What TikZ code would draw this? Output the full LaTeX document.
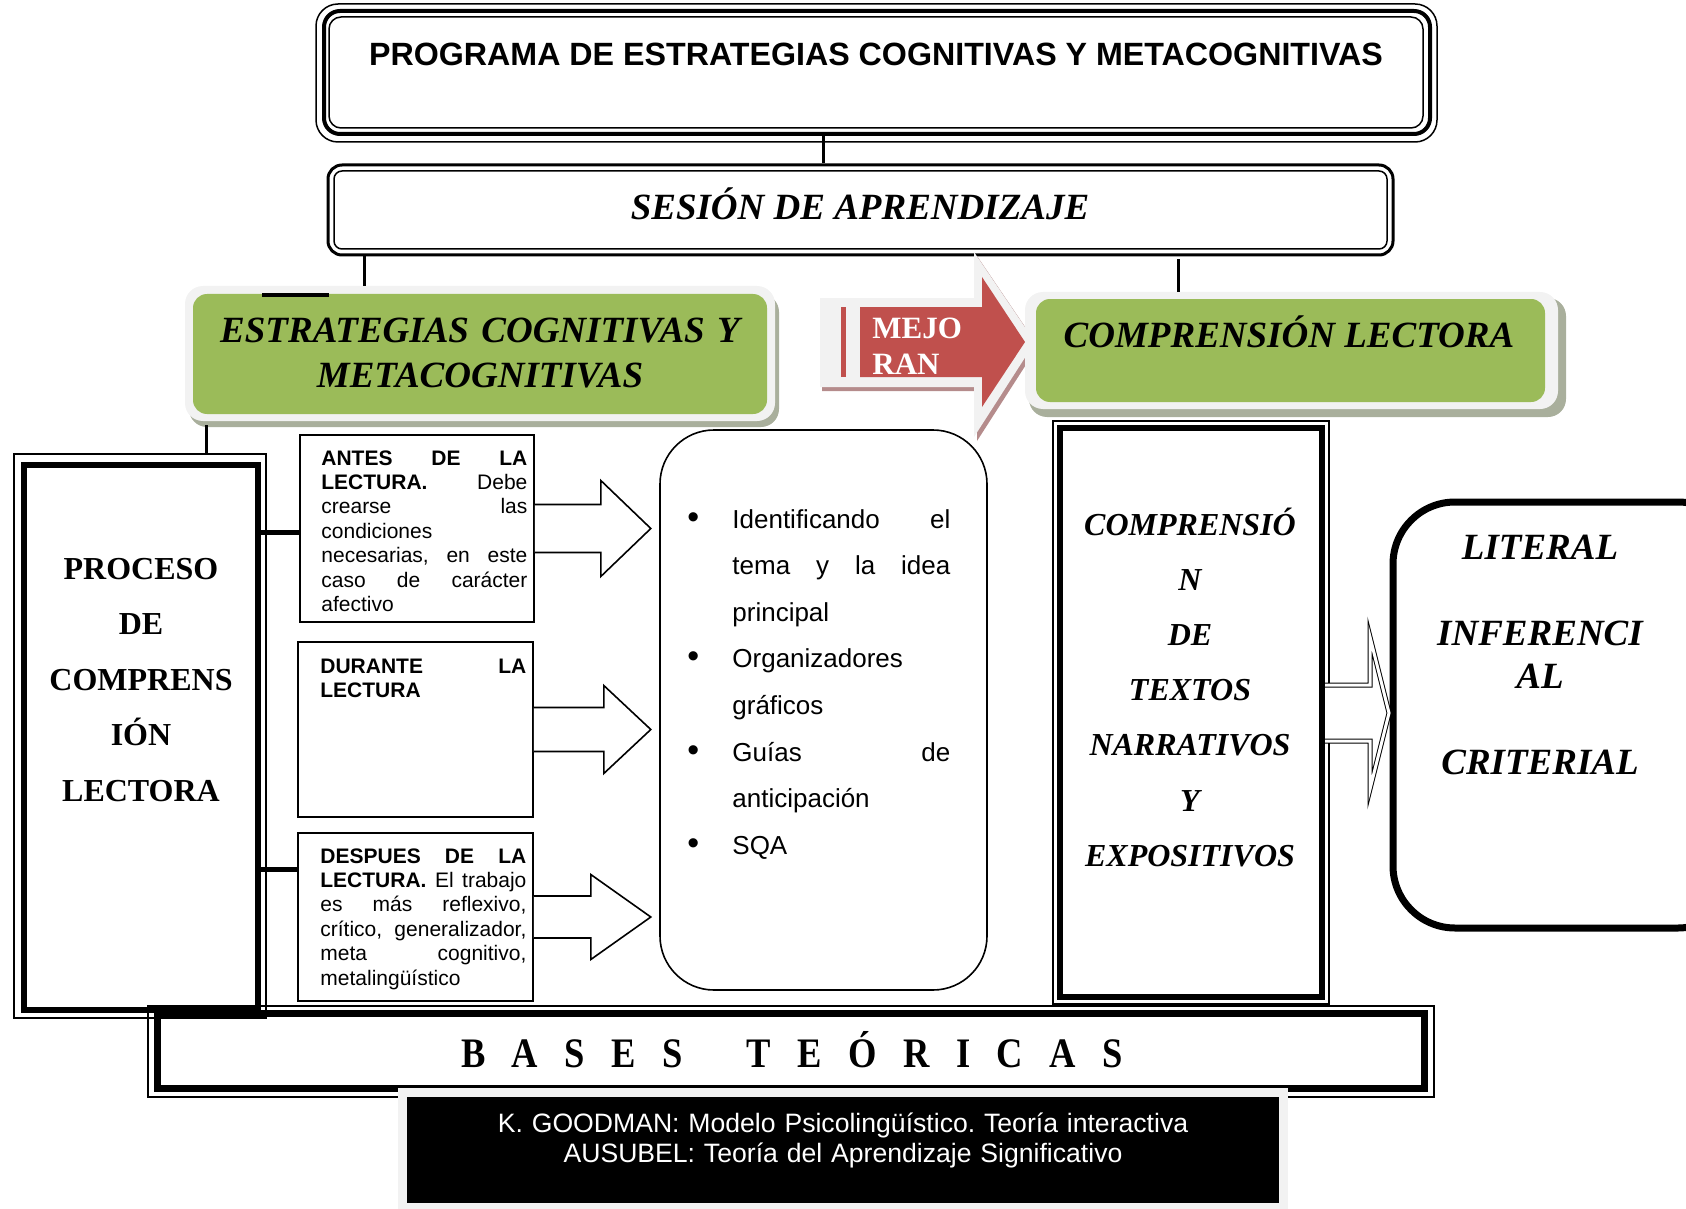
\documentclass[tikz,border=0pt]{standalone}
\usepackage{fontspec}
\setmainfont{Liberation Serif}
\setsansfont{Liberation Sans}
\usetikzlibrary{fit,calc}
\definecolor{verde}{HTML}{9BBB59}
\definecolor{verdesh}{HTML}{A9AF9C}
\definecolor{gris}{HTML}{F2F2F2}
\definecolor{rojo}{HTML}{C0504D}
\definecolor{rojosh}{HTML}{B58C8C}
\tikzset{bx/.append style={draw, inner sep=0pt}}
\tikzset{tk/.append style={line width=3pt}}
\tikzset{tn/.append style={line width=0.75pt}}
\tikzset{cn/.append style={line width=1.5pt}}
\tikzset{gv/.append style={fill=verde, rounded corners=7pt, inner sep=0pt}}
\tikzset{gb/.append style={fill=gris, rounded corners=9pt, inner sep=0pt}}
\tikzset{arr/.append style={draw, line width=0.8pt, fill=white, line join=miter}}
\tikzset{ti/.append style={font=\fontsize{18.5}{22}\selectfont\bfseries\itshape}}
\tikzset{sm/.append style={text width=103pt, align=justify, inner sep=0pt, font=\sffamily\fontsize{10.5}{12.2}\selectfont}}
\newcommand{\punto}{\hangindent=22.5pt\hangafter=1\noindent\hbox to 22.5pt{\scalebox{1.3}{\textbullet}\hfil}}
\frenchspacing

\begin{document}
\begin{tikzpicture}[x=0.5pt,y=-0.5pt]
\useasboundingbox (0,0) rectangle (1686,1209);
\clip (0,0) rectangle (1686,1209);

% programa
\draw[tn, rounded corners=11pt] (316,4) rectangle (1437,142);
\node[bx, fit={(324,11) (1430,134)}, line width=2pt, rounded corners=8pt] (prog) {};
\draw[tn, rounded corners=6pt] (329,17) rectangle (1423,128);
\node[anchor=base, font=\sffamily\bfseries\fontsize{16.1}{18}\selectfont] (progtxt) at (876,66) {PROGRAMA DE ESTRATEGIAS COGNITIVAS Y METACOGNITIVAS};

% sesion
\node[bx, fit={(328,165) (1393,255)}, line width=1.5pt, rounded corners=7pt] (sesion) {};
\draw[tn, rounded corners=4pt] (334,171) rectangle (1387,249);
\node[anchor=base, ti] (sestxt) at (860,220) {SESIÓN DE APRENDIZAJE};
\draw[cn] ([xshift=-27pt]prog.south) coordinate (p1) -- (p1 |- sesion.north);

% estrategias
\fill[verdesh, rounded corners=9pt] (189,294) rectangle (779,427);
\node[gb, fit={(185,286) (775,421)}] (lgb) {};
\node[gv, fit={(193,294) (767,414)}] (lg) {};
\node[anchor=base, text width=280pt, align=center, inner sep=0pt, ti] (lgtxt) at (480,343) {ESTRATEGIAS COGNITIVAS Y\\METACOGNITIVAS};
\draw[line width=2pt] (262,295) -- (329,295);
\draw[cn] ($(sesion.south west)+(38,0)$) coordinate (p2) -- (p2 |- lgb.north);

% mejoran
\fill[rojosh] (822,302) -- (977,302) -- (977,256) -- (1038,346) -- (977,441) -- (977,391) -- (822,391) -- cycle;
\fill[gris] (820,298) -- (974,298) -- (974,252) -- (1035,342) -- (974,437) -- (974,387) -- (820,387) -- cycle;
\fill[rojo] (841,307) rectangle (846,377);
\fill[rojo] (860,307) -- (982,307) -- (982,277) -- (1025,342) -- (982,407) -- (982,377) -- (860,377) -- cycle;
\node[anchor=base west, text width=50pt, align=left, inner sep=0pt, text=white, font=\fontsize{15.5}{18}\selectfont\bfseries] (mejoran) at (872,338) {MEJO\\RAN};

% comprension lectora
\fill[verdesh, rounded corners=9pt] (1029,298) rectangle (1566,417);
\node[gb, fit={(1025,292) (1558,409)}] (rgb) {};
\node[gv, fit={(1036,299) (1545,402)}] (rg) {};
\node[anchor=base, ti] (rgtxt) at (1289,347) {COMPRENSIÓN LECTORA};
\draw[cn] ($(sesion.south west)+(852,3)$) coordinate (p3) -- (p3 |- rgb.north);

% bases teoricas
\draw[tn] (148,1006) rectangle (1434,1097);
\node[bx, fit={(157,1013) (1424,1088)}, line width=3.5pt] (bases) {};
\node[anchor=base, font=\fontsize{21}{23}\selectfont\bfseries] (basestxt) at (792,1067) {\scalebox{0.87}[1]{\spaceskip=15.2pt B A S E S\hspace{37pt}T E Ó R I C A S}};
\fill[gris] (398,1088) rectangle (1288,1215);
\node[fill=black, inner sep=0pt, fit={(407,1097) (1279,1203)}] (teoria) {};
\node[anchor=base, text width=420pt, align=center, text=white, font=\sffamily\fontsize{13.3}{15}\selectfont] (teotxt) at (843,1132) {K. GOODMAN: Modelo Psicolingüístico. Teoría interactiva\\AUSUBEL: Teoría del Aprendizaje Significativo};

% proceso
\node[bx, tn, fit={(14,454) (266,1018)}] (proco) {};
\node[bx, tk, fit={(24,465) (258,1010)}] (proc) {};
\node[anchor=base, text width=105pt, align=center, font=\fontsize{16}{27.75}\selectfont\bfseries] (proctxt) at (141,579) {PROCESO\\DE\\COMPRENS\\IÓN\\LECTORA};
\draw[cn] ($(lgb.south west)+(22,4)$) coordinate (p4) -- (p4 |- proco.north);

% antes, durante, despues
\node[bx, line width=0.8pt, fit={(300,435) (534,622)}] (antes) {};
\node[bx, line width=0.8pt, fit={(298,642) (533,817)}] (durante) {};
\node[bx, line width=0.8pt, fit={(298,833) (533,1001)}] (despues) {};
\node[anchor=base west, sm] (antestxt) at (321,465) {\textbf{ANTES DE LA}\linebreak \textbf{LECTURA.} Debe\linebreak crearse las\linebreak condiciones\newline necesarias, en este\linebreak caso de carácter\linebreak afectivo};
\node[anchor=base west, sm] (durantetxt) at (320,673) {\textbf{DURANTE LA}\linebreak \textbf{LECTURA}};
\node[anchor=base west, sm] (despuestxt) at (320,863) {\textbf{DESPUES DE LA}\linebreak \textbf{LECTURA.} El trabajo\linebreak es más reflexivo,\linebreak crítico, generalizador,\linebreak meta cognitivo,\linebreak metalingüístico};
\draw[line width=2.5pt] ([yshift=-1.75pt]antes.west) coordinate (p5) -- (p5 -| proc.east);
\draw[line width=2.5pt] ($(despues.north west)+(0,37)$) coordinate (p6) -- (p6 -| proc.east);

% estrategias de lectura
\node[bx, line width=0.8pt, rounded corners=27pt, fit={(660,430) (987,990)}] (lbox) {};
\node[anchor=base west, text width=131.5pt, align=justify, inner sep=0pt, font=\sffamily\fontsize{13}{23.3}\selectfont] (lista) at (687,528) {\punto Identificando el\linebreak tema y la idea\linebreak principal\par
\punto Organizadores\newline gráficos\par
\punto Guías de\linebreak anticipación\par
\punto SQA};
\draw[arr] (antes.east) ++(0,-24) -- ++(66,0) -- ++(0,-24) -- ++(50,48) -- ++(-50,48) -- ++(0,-24) -- ++(-66,0);
\draw[arr] (durante.east) ++(0,-22) -- ++(70,0) -- ++(0,-22) -- ++(47,44) -- ++(-47,44) -- ++(0,-22) -- ++(-70,0);
\draw[arr] (despues.east) ++(0,-21) -- ++(57,0) -- ++(0,-21.5) -- ++(60,42.5) -- ++(-60,42.5) -- ++(0,-21.5) -- ++(-57,0);

% comprension de textos
\node[bx, tn, fit={(1053,421) (1329,1004)}] (compo) {};
\node[bx, tk, fit={(1060,428) (1322,997)}] (comp) {};
\node[anchor=base, text width=130pt, align=center, font=\fontsize{16}{27.6}\selectfont\bfseries\itshape] (comptxt) at (1190,535) {COMPRENSIÓ\\N\\DE\\TEXTOS\\NARRATIVOS\\Y\\EXPOSITIVOS};

% niveles
\node[bx, line width=3.5pt, rounded corners=31pt, fit={(1393,502) (1740,928)}] (lit) {};
\node[anchor=base, text width=120pt, align=center, font=\fontsize{18.5}{21.5}\selectfont\bfseries\itshape] (littxt) at (1540,559) {LITERAL\\[21.5pt]INFERENCI\\AL\\[21.5pt]CRITERIAL};
\draw[line width=0.5pt, double, double distance=1.5pt, fill=white] (comp.east) ++(0,-27.5) -- ++(45,0) -- ++(0,-48) -- ++(19,76) -- ++(-19,76) -- ++(0,-48) -- ++(-45,0);
\end{tikzpicture}
\end{document}
